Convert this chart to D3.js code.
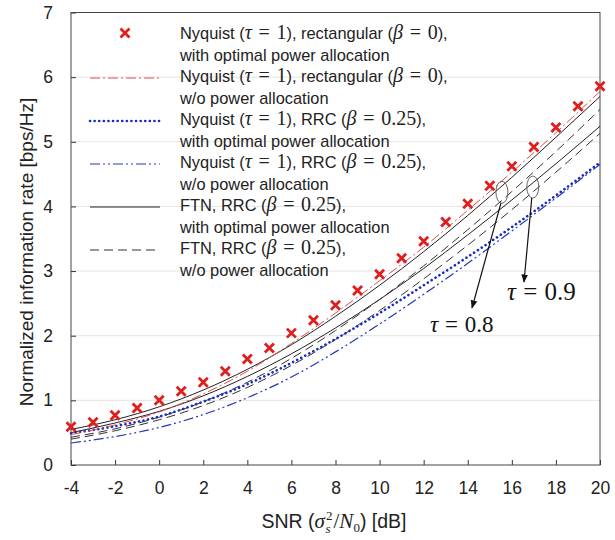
<!DOCTYPE html>
<html><head><meta charset="utf-8">
<script src="https://cdn.jsdelivr.net/npm/d3@7"></script>
<style>body{margin:0;background:#fff}svg{display:block}</style>
</head><body><svg id="c" width="615" height="540"></svg>
<script>
// ---- data ----
const snrMarkers = [-4,-3,-2,-1,0,1,2,3,4,5,6,7,8,9,10,11,12,13,14,15,16,17,18,19,20];
const nyqRectOpt = [0.59,0.66,0.77,0.88,1.0,1.14,1.28,1.45,1.64,1.81,2.04,2.24,2.47,2.70,2.95,3.20,3.46,3.76,4.04,4.32,4.62,4.92,5.22,5.55,5.86];
const snr = [-4,-2,0,2,4,6,8,10,12,14,16,18,20];
const nyqRectNoPA = [0.47,0.62,0.82,1.10,1.45,1.88,2.35,2.85,3.37,3.94,4.53,5.14,5.78];
const nyqRrcOpt   = [0.49,0.60,0.75,0.98,1.25,1.58,1.95,2.35,2.78,3.22,3.68,4.17,4.68];
const nyqRrcNoPA  = [0.34,0.44,0.58,0.78,1.04,1.36,1.75,2.18,2.64,3.12,3.62,4.13,4.65];
const ftn08Opt    = [0.55,0.70,0.90,1.16,1.48,1.86,2.30,2.78,3.30,3.86,4.45,5.07,5.70];
const ftn08NoPA   = [0.43,0.56,0.74,0.98,1.28,1.65,2.08,2.56,3.08,3.64,4.23,4.85,5.50];
const ftn09Opt    = [0.50,0.65,0.83,1.07,1.37,1.72,2.12,2.56,3.04,3.56,4.10,4.66,5.24];
const ftn09NoPA   = [0.40,0.53,0.70,0.92,1.20,1.54,1.94,2.39,2.88,3.40,3.95,4.53,5.13];
const xTicks = [-4,-2,0,2,4,6,8,10,12,14,16,18,20];
const yTicks = [0,1,2,3,4,5,6,7];

const svg = d3.select("#c");
const L=71, R=600, T=12.5, B=465;
const x = d3.scaleLinear().domain([-4,20]).range([L,R]);
const y = d3.scaleLinear().domain([0,7]).range([B,T]);

// grid
svg.append("g").selectAll("line").data(yTicks.filter(v=>v>0&&v<7)).join("line")
  .attr("x1",L).attr("x2",R).attr("y1",d=>y(d)).attr("y2",d=>y(d))
  .attr("stroke","#e4e4e4").attr("stroke-width",1);

// axes
const font = "'Liberation Sans', Arial, sans-serif";
const fmt = d => String(d);
const xa = svg.append("g").attr("transform",`translate(0,${B})`)
  .call(d3.axisBottom(x).tickValues(xTicks).tickSize(-5).tickPadding(17).tickFormat(fmt));
const ya = svg.append("g").attr("transform",`translate(${L},0)`)
  .call(d3.axisLeft(y).tickValues(yTicks).tickSize(-5).tickPadding(18).tickFormat(fmt));
[xa,ya].forEach(a=>{
  a.select(".domain").remove();
  a.selectAll("line").attr("stroke","#333");
  a.selectAll("text").attr("font-family",font).attr("font-size",17.5).attr("fill","#222");
});
svg.append("rect").attr("x",L).attr("y",T).attr("width",R-L).attr("height",B-T)
  .attr("fill","none").attr("stroke","#444").attr("stroke-width",1);

// curves
const line = d3.line().x(d=>x(d[0])).y(d=>y(d[1])).curve(d3.curveMonotoneX);
const series = [
  {v:ftn09NoPA, c:"#333", w:1, dash:"9,5"},
  {v:ftn09Opt, c:"#222", w:1, dash:null},
  {v:ftn08NoPA, c:"#333", w:1, dash:"9,5"},
  {v:ftn08Opt, c:"#222", w:1, dash:null},
  {v:nyqRrcNoPA, c:"#2438b8", w:1.2, dash:"10,3,2,3,2,3"},
  {v:nyqRrcOpt, c:"#1a2cc0", w:2.6, dash:"0.1,4.5", cap:"round"},
  {v:nyqRectNoPA, c:"#e44c4c", w:1, dash:"10,3,2,3"},
];
series.forEach(s=>{
  svg.append("path").datum(snr.map((d,i)=>[d,s.v[i]])).attr("d",line)
    .attr("fill","none").attr("stroke",s.c).attr("stroke-width",s.w)
    .attr("stroke-dasharray",s.dash).attr("stroke-linecap",s.cap||"butt");
});
// crosses
const cross = (g,cx,cy)=>{
  const r=4.5;
  g.append("path").attr("d",`M${cx-r},${cy-r}L${cx+r},${cy+r}M${cx-r},${cy+r}L${cx+r},${cy-r}`)
   .attr("stroke","#e01e1e").attr("stroke-width",2.8).attr("fill","none");
};
const mg = svg.append("g");
snrMarkers.forEach((d,i)=>cross(mg,x(d),y(nyqRectOpt[i])));

// legend
const serif = "'Liberation Serif','Times New Roman',serif";
const sp = "\u2004=\u2004";
const leg = [
  {l1:[["Nyquist (",0],["τ",2],[sp+"1",1],["), rectangular (",0],["β",2],[sp+"0",1],["),",0]], l2:"with optimal power allocation", type:"cross"},
  {l1:[["Nyquist (",0],["τ",2],[sp+"1",1],["), rectangular (",0],["β",2],[sp+"0",1],["),",0]], l2:"w/o power allocation", type:6},
  {l1:[["Nyquist (",0],["τ",2],[sp+"1",1],["), RRC (",0],["β",2],[sp+"0.25",1],["),",0]], l2:"with optimal power allocation", type:5},
  {l1:[["Nyquist (",0],["τ",2],[sp+"1",1],["), RRC (",0],["β",2],[sp+"0.25",1],["),",0]], l2:"w/o power allocation", type:4},
  {l1:[["FTN, RRC (",0],["β",2],[sp+"0.25",1],["),",0]], l2:"with optimal power allocation", type:3},
  {l1:[["FTN, RRC (",0],["β",2],[sp+"0.25",1],["),",0]], l2:"w/o power allocation", type:2},
];
leg.forEach((e,i)=>{
  const yy = 33 + i*43;
  if(e.type==="cross") cross(svg,125,yy);
  else {
    const s = series[e.type];
    svg.append("line").attr("x1",90).attr("x2",160).attr("y1",yy+2).attr("y2",yy+2)
      .attr("stroke",s.c).attr("stroke-width",s.w).attr("stroke-dasharray",s.dash).attr("stroke-linecap",s.cap||"butt");
  }
  const t = svg.append("text").attr("x",180).attr("y",yy+6).attr("font-size",16.4).attr("fill","#222");
  e.l1.forEach(p=>{
    t.append("tspan").text(p[0]).attr("font-family",p[1]?serif:font)
     .attr("font-style",p[1]===2?"italic":"normal").attr("font-size",p[1]?20:16.4);
  });
  svg.append("text").attr("x",180).attr("y",yy+28).attr("font-family",font).attr("font-size",16.4)
    .attr("fill","#222").text(e.l2);
});

// annotations
svg.append("defs").append("marker").attr("id","ah").attr("viewBox","0 0 10 10").attr("refX",9).attr("refY",5)
  .attr("markerWidth",7).attr("markerHeight",7).attr("orient","auto")
  .append("path").attr("d","M0,1L10,5L0,9Z").attr("fill","#111");
const ann = [
  {sx:15.55, sy:4.22, tx:472, ty:308, lx:430, ly:332, fs:23, label:"0.8"},
  {sx:16.95, sy:4.30, tx:524, ty:282, lx:507, ly:300, fs:25, label:"0.9"},
];
ann.forEach(a=>{
  svg.append("ellipse").attr("cx",x(a.sx)).attr("cy",y(a.sy)).attr("rx",6).attr("ry",11)
    .attr("fill","none").attr("stroke","#666").attr("stroke-width",1);
  svg.append("line").attr("x1",x(a.sx)-1).attr("y1",y(a.sy)+11).attr("x2",a.tx).attr("y2",a.ty)
    .attr("stroke","#111").attr("stroke-width",1.2).attr("marker-end","url(#ah)");
  const t = svg.append("text").attr("x",a.lx).attr("y",a.ly).attr("font-family",serif).attr("font-size",a.fs).attr("fill","#111");
  t.append("tspan").text("τ").attr("font-style","italic");
  t.append("tspan").text(" = ").attr("dx",1);
  t.append("tspan").text(a.label).attr("dx",1);
});

// axis titles
svg.append("text").attr("transform",`translate(33,252) rotate(-90)`).attr("text-anchor","middle")
  .attr("font-family",font).attr("font-size",19).attr("fill","#222").text("Normalized information rate [bps/Hz]");
const xt = svg.append("text").attr("x",334).attr("y",528).attr("text-anchor","middle")
  .attr("font-family",font).attr("font-size",19.5).attr("fill","#222");
xt.append("tspan").text("SNR (");
xt.append("tspan").text("σ").attr("font-family",serif).attr("font-style","italic").attr("font-size",21);
xt.append("tspan").text("2").attr("font-family",serif).attr("font-size",13).attr("dy",-8).attr("dx",1);
xt.append("tspan").text("s").attr("font-family",serif).attr("font-style","italic").attr("font-size",13).attr("dy",13).attr("dx",-7);
xt.append("tspan").text("/").attr("font-family",serif).attr("font-size",21).attr("dy",-5).attr("dx",3);
xt.append("tspan").text("N").attr("font-family",serif).attr("font-style","italic").attr("font-size",21);
xt.append("tspan").text("0").attr("font-family",serif).attr("font-size",13).attr("dy",4);
xt.append("tspan").text(") [dB]").attr("dy",-4);
</script></body></html>
